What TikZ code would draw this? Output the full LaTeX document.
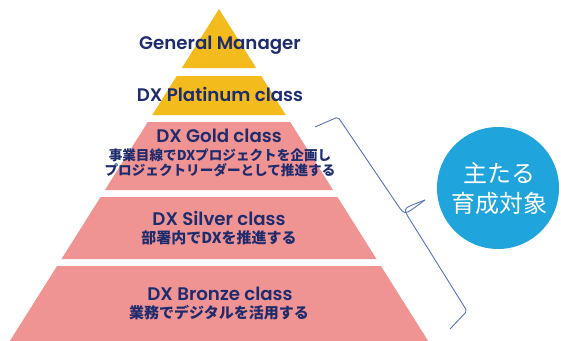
\documentclass[tikz,border=0pt]{standalone}
\usepackage{fontspec}
\setmainfont{Poppins}[BoldFont={Poppins SemiBold}]
\newfontfamily\jp{Noto Sans CJK JP}
\definecolor{gold}{HTML}{F3BB1C}
\definecolor{rose}{HTML}{F09393}
\definecolor{navy}{HTML}{1E2C6E}
\definecolor{sky}{HTML}{20A4DC}
\definecolor{bracec}{HTML}{5573C2}
\tikzset{
  lvl/.style={text=navy,font=\fontsize{18.2}{20}\selectfont\bfseries,inner sep=0pt},
  sub/.style={text=navy,font=\jp\fontsize{13.6}{16}\selectfont\bfseries,inner sep=0pt,align=center},
  subbig/.style={sub,font=\jp\fontsize{15}{17}\selectfont\bfseries},
}
\begin{document}
\begin{tikzpicture}[x=1pt,y=-1pt]
\useasboundingbox (0,0) rectangle (561,340);
% pyramid: apex (219,9), slope 0.63
\def\xl#1{219-0.63*(#1-9)}
\def\xr#1{219+0.63*(#1-9)}
\fill[gold] (219,9) -- ({\xr{68}},68) -- ({\xl{68}},68) -- cycle;
\fill[gold] ({\xl{76}},76) -- ({\xr{76}},76) -- ({\xr{115}},115) -- ({\xl{115}},115) -- cycle;
\fill[rose] ({\xl{122}},122) -- ({\xr{122}},122) -- ({\xr{190}},190) -- ({\xl{190}},190) -- cycle;
\fill[rose] ({\xl{197}},197) -- ({\xr{197}},197) -- ({\xr{259}},259) -- ({\xl{259}},259) -- cycle;
\fill[rose] ({\xl{266}},266) -- ({\xr{266}},266) -- ({\xr{345}},345) -- ({\xl{345}},345) -- cycle;
% texts
\node[lvl] (gm) at (220,45) {General Manager};
\node[lvl] (pt) at (220,94) {DX Platinum class};
\node[lvl] (gd) at (219,136) {DX Gold class};
\node[sub] (gdt) at (220,163) {事業目線でDXプロジェクトを企画し\\[-1pt]プロジェクトリーダーとして推進する};
\node[lvl] (sv) at (219,218) {DX Silver class};
\node[subbig] (svt) at (219,238) {部署内でDXを推進する};
\node[lvl] (bz) at (220,294) {DX Bronze class};
\node[subbig] (bzt) at (219,313) {業務でデジタルを活用する};
% circle
\node[circle,fill=sky,minimum size=122pt,inner sep=0pt] (target) at (498,188) {};
\node[text=white,font=\jp\fontsize{24}{30}\selectfont,align=center,inner sep=0pt] (tt) at (499,189) {主たる\\育成対象};
% brace
\coordinate (b1) at (315,127);
\coordinate (b2) at (338,117);
\coordinate (b3) at (401,210);
\coordinate (tip) at (425,200);
\coordinate (b4) at (407,215);
\coordinate (b5) at (467,311);
\coordinate (b6) at (450,329);
\draw[bracec,line width=0.9pt,rounded corners=2pt,line join=round]
  (b1) -- (b2) -- (b3) .. controls (406,214) .. (tip);
\draw[bracec,line width=0.9pt,rounded corners=2pt,line join=round]
  (tip) .. controls (404,208) .. (b4) -- (b5) -- (b6);
\end{tikzpicture}
\end{document}
